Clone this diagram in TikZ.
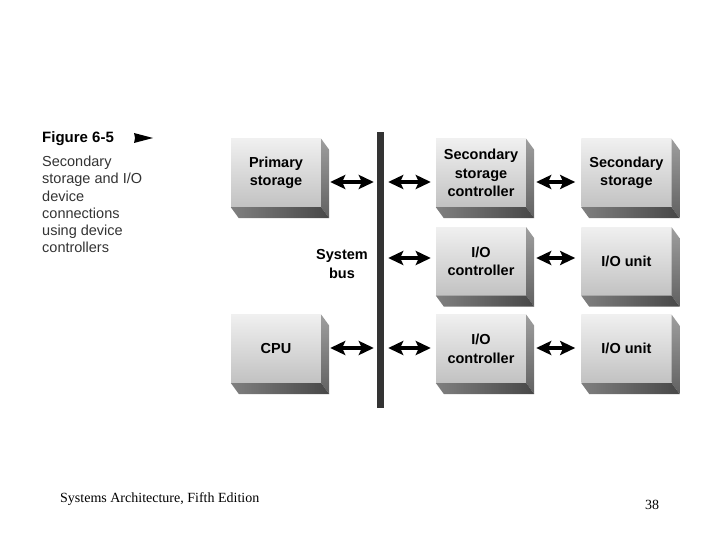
\documentclass[tikz,border=0pt]{standalone}
\usepackage{fontspec}
\setmainfont{Liberation Serif}
\setsansfont{Liberation Sans}
\usetikzlibrary{positioning,calc,arrows.meta}

\tikzset{
  blk/.style={minimum width=90pt, minimum height=68pt, inner sep=0pt, align=center,
    font=\sffamily\bfseries\fontsize{14.5}{18.5}\selectfont,
    top color=black!6, bottom color=black!24},
  dbl/.style={<->, >={Stealth[length=15pt,width=14pt,inset=3pt]}, line width=3.2pt},
}

\begin{document}
\begin{tikzpicture}[x=1pt,y=-1pt]
	\useasboundingbox (0,0) rectangle (720,540);
	% left caption
	\node[anchor=west, inner sep=0pt, font=\sffamily\bfseries\fontsize{15}{17}\selectfont] (fig) at (42,139) {Figure 6-5};
	\fill (134,133) -- (153,138) -- (134,143) -- (135,138) -- cycle;
	\node[anchor=north west, inner sep=0pt, align=left, text=black!80,
	      font=\sffamily\fontsize{14.5}{17.2}\selectfont] (cap) at (42,156)
	      {Secondary\\storage and I/O\\device\\connections\\using device\\controllers};
	% bus
	\node[fill=black!80, minimum width=7pt, minimum height=276pt, inner sep=0pt] (bus) at (380.5,270) {};
	\node[align=center, font=\sffamily\bfseries\fontsize{14.5}{18.5}\selectfont] (sysbus) at (342,264) {System\\bus};
	% blocks
	\node[blk] (prim) at (276,173) {Primary\\storage};
	\node[blk] (ssc) at (481,173) {Secondary\\storage\\controller};
	\node[blk, right=55pt of ssc] (ss) {Secondary\\storage};
	\node[blk, below=20pt of ssc] (ioca) {I/O\\controller};
	\node[blk, right=55pt of ioca] (ioua) {I/O unit};
	\node[blk, below=19pt of ioca] (iocb) {I/O\\controller};
	\node[blk, right=55pt of iocb] (ioub) {I/O unit};
	\node[blk] (cpu) at (prim |- iocb) {CPU};
	% 3d sides
	\foreach \n in {prim,cpu,ssc,ss,ioca,ioua,iocb,ioub}{
		\shade[top color=black!38, bottom color=black!62] (\n.north east) -- ++(8pt,-11pt)
			-- ([shift={(8pt,-11pt)}]\n.south east) -- (\n.south east) -- cycle;
		\shade[left color=black!50, right color=black!72] (\n.south west) -- (\n.south east)
			-- ++(8pt,-11pt) -- ([shift={(8pt,-11pt)}]\n.south west) -- cycle;
	}
	% rows
	\coordinate (r1) at (0,182);
	\coordinate (r2) at (0,258);
	\coordinate (r3) at (0,348);
	\draw[dbl] ($(prim.east |- r1)+(9pt,0)$) -- ($(bus.west |- r1)+(-3pt,0)$);
	\draw[dbl] ($(bus.east |- r1)+(4pt,0)$) -- ($(ssc.west |- r1)+(-5pt,0)$);
	\draw[dbl] ($(ssc.east |- r1)+(10pt,0)$) -- ($(ss.west |- r1)+(-6pt,0)$);
	\draw[dbl] ($(bus.east |- r2)+(4pt,0)$) -- ($(ioca.west |- r2)+(-5pt,0)$);
	\draw[dbl] ($(ioca.east |- r2)+(10pt,0)$) -- ($(ioua.west |- r2)+(-6pt,0)$);
	\draw[dbl] ($(cpu.east |- r3)+(9pt,0)$) -- ($(bus.west |- r3)+(-3pt,0)$);
	\draw[dbl] ($(bus.east |- r3)+(4pt,0)$) -- ($(iocb.west |- r3)+(-5pt,0)$);
	\draw[dbl] ($(iocb.east |- r3)+(10pt,0)$) -- ($(ioub.west |- r3)+(-6pt,0)$);
	% footer
	\node[anchor=base west, inner sep=0pt, font=\fontsize{14}{16}\selectfont] (foot) at (60,502) {Systems Architecture, Fifth Edition};
	\node[anchor=base west, inner sep=0pt, font=\fontsize{14}{16}\selectfont] (page) at (645,509) {38};
\end{tikzpicture}
\end{document}
